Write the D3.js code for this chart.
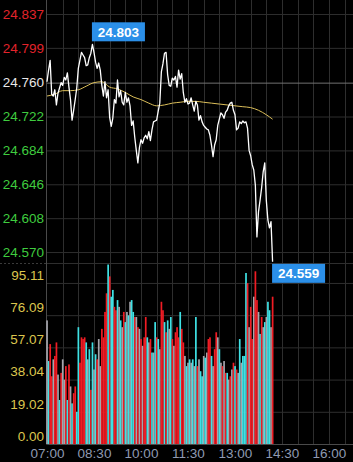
<!DOCTYPE html>
<html>
<head>
<meta charset="utf-8">
<style>
  html, body { margin: 0; padding: 0; background: #000; overflow: hidden; }
  svg { display: block; }
  text { font-family: "Liberation Sans", Arial, sans-serif; }
</style>
</head>
<body>
<svg id="chart" width="353" height="462"></svg>
<script src="https://d3js.org/d3.v7.min.js"></script>
<script>
const priceTicks = [24.837, 24.799, 24.760, 24.722, 24.684, 24.646, 24.608, 24.570];
const volumeTicks = [0, 19.02, 38.04, 57.07, 76.09, 95.11];
const timeTicks = ["07:00", "08:30", "10:00", "11:30", "13:00", "14:30", "16:00"];
const prevClose = 24.760;
const barMinutes = 3;   // one point / bar every 3 minutes from 07:00
const avgEvery = 5;     // average line sampled every 5 bars

// last price per bar
const prices = [
  24.761, 24.774, 24.785, 24.747, 24.745, 24.752, 24.735, 24.748, 24.754, 24.760,
  24.757, 24.766, 24.763, 24.771, 24.755, 24.741, 24.718, 24.729, 24.741, 24.754,
  24.776, 24.785, 24.794, 24.791, 24.788, 24.779, 24.780, 24.788, 24.793, 24.803,
  24.794, 24.783, 24.776, 24.782, 24.774, 24.757, 24.745, 24.761, 24.743, 24.752,
  24.721, 24.711, 24.720, 24.741, 24.737, 24.763, 24.744, 24.751, 24.738, 24.735,
  24.749, 24.738, 24.743, 24.734, 24.712, 24.717, 24.699, 24.684, 24.670, 24.687,
  24.696, 24.692, 24.698, 24.701, 24.697, 24.705, 24.695, 24.707, 24.716, 24.717,
  24.718, 24.728, 24.737, 24.772, 24.781, 24.793, 24.794, 24.769, 24.757, 24.756,
  24.765, 24.763, 24.767, 24.755, 24.774, 24.764, 24.770, 24.749, 24.738, 24.742,
  24.736, 24.737, 24.743, 24.735, 24.728, 24.739, 24.735, 24.718, 24.723, 24.716,
  24.712, 24.710, 24.708, 24.707, 24.701, 24.690, 24.677, 24.690, 24.696, 24.712,
  24.719, 24.726, 24.724, 24.720, 24.727, 24.729, 24.734, 24.737, 24.738, 24.729,
  24.724, 24.707, 24.709, 24.716, 24.714, 24.717, 24.715, 24.716, 24.709, 24.684,
  24.678, 24.668, 24.662, 24.645, 24.587, 24.615, 24.628, 24.642, 24.660, 24.670,
  24.628, 24.606, 24.597, 24.604, 24.559
];

// average price, every 5 bars (last one = last bar)
const avgPrices = [
  24.745, 24.747, 24.751, 24.751, 24.752, 24.756, 24.760, 24.761, 24.755, 24.753,
  24.749, 24.744, 24.741, 24.737, 24.734, 24.735, 24.737, 24.738, 24.739, 24.739,
  24.738, 24.737, 24.736, 24.735, 24.734, 24.733, 24.732, 24.729, 24.724, 24.719
];

const volumes = [
  73, 49, 59, 40, 50, 52, 60, 41, 26, 42, 50, 38, 46, 26, 47, 34, 24, 30, 34, 19,
  69, 48, 63, 62, 63, 60, 50, 56, 32, 60, 44, 53, 50, 62, 46, 68, 63, 78, 89, 106,
  99, 87, 91, 81, 79, 85, 81, 73, 69, 78, 72, 78, 76, 84, 85, 78, 75, 75, 69, 68,
  62, 58, 63, 75, 63, 60, 62, 54, 54, 72, 63, 62, 56, 84, 79, 72, 66, 73, 68, 75,
  62, 58, 66, 69, 63, 78, 68, 60, 52, 46, 48, 50, 48, 50, 46, 75, 46, 50, 43, 40,
  52, 51, 54, 62, 63, 52, 46, 56, 66, 63, 56, 48, 46, 49, 42, 42, 38, 40, 44, 48,
  46, 44, 42, 62, 48, 52, 52, 101, 95, 69, 81, 62, 87, 102, 85, 78, 65, 75, 69, 72,
  75, 84, 79, 69, 87
];

// 1 = up (red), -1 = down (cyan), 0 = flat (grey)
const volumeSide = [
  0, -1, 1, 1, 0, 1, 1, 0, -1, 1, 0, 0, 1, -1, 1, 0, -1, 1, 1, -1,
  -1, 1, 1, 1, 1, -1, 0, -1, 1, -1, 0, -1, 1, 0, 0, 1, 1, 1, 1, -1,
  1, -1, -1, 1, 1, -1, 0, -1, 0, 1, -1, 0, -1, 0, -1, -1, 1, 0, 1, 0,
  1, 0, 1, 1, -1, 0, 1, -1, 0, -1, 1, -1, 0, 1, 1, -1, 1, -1, 0, -1,
  1, 0, 1, 1, 1, -1, 1, 1, 0, -1, 0, -1, 0, -1, 0, -1, 1, 0, -1, -1,
  0, -1, 0, 1, 1, -1, 0, 1, 1, 0, -1, 0, 1, 0, 1, -1, 0, 1, 0, 1,
  -1, 1, 0, -1, 0, -1, -1, -1, 1, 0, 1, 1, 0, 1, 1, 0, -1, 1, 0, -1,
  0, -1, -1, 0, 1
];

const W = 353, H = 462;
const left = 46;
const priceBottom = 263, volBottom = 444;

const svg = d3.select("#chart");
svg.append("rect").attr("width", W).attr("height", H).attr("fill", "#000");

const x = d3.scaleLinear().domain([0, 586]).range([47, W]);
const yPrice = d3.scaleLinear().domain([24.5577, 24.8527]).range([priceBottom, 0]);
const yVol = d3.scaleLinear().domain([0, 106.9]).range([volBottom, priceBottom]);

const GRID = "#2e2e2e";

// vertical grid, every 30 minutes
svg.append("g")
  .selectAll("line")
  .data(d3.range(30, 587, 30))
  .join("line")
  .attr("x1", d => Math.round(x(d)) + 0.5).attr("x2", d => Math.round(x(d)) + 0.5)
  .attr("y1", 0).attr("y2", volBottom)
  .attr("stroke", GRID).attr("stroke-width", 1);

// price axis + horizontal grid
const priceAxis = svg.append("g")
  .attr("transform", `translate(${left},0)`)
  .call(d3.axisLeft(yPrice).tickValues(priceTicks).tickFormat(d3.format(".3f"))
    .tickSizeInner(-(W - left)).tickSizeOuter(0).tickPadding(2));
priceAxis.select(".domain").remove();
priceAxis.selectAll(".tick line")
  .attr("stroke", d => d === prevClose ? "#707070" : GRID);
priceAxis.selectAll(".tick text")
  .attr("font-size", 13.5)
  .attr("fill", d => d > prevClose ? "#e3232b" : d < prevClose ? "#3fcc3f" : "#e8e8e8");

// volume axis + horizontal grid (labels sit above their line)
const volAxis = svg.append("g")
  .attr("transform", `translate(${left},0)`)
  .call(d3.axisLeft(yVol).tickValues(volumeTicks).tickFormat(d3.format(".2f"))
    .tickSizeInner(-(W - left)).tickSizeOuter(0).tickPadding(2));
volAxis.select(".domain").remove();
volAxis.selectAll(".tick line").attr("stroke", GRID);
volAxis.selectAll(".tick text")
  .attr("font-size", 13.5)
  .attr("y", -8)
  .attr("fill", "#dcc64e");

// panel separator: dotted under the labels, solid over the plot
svg.append("line")
  .attr("x1", 0).attr("x2", left)
  .attr("y1", priceBottom + 0.5).attr("y2", priceBottom + 0.5)
  .attr("stroke", "#3a3a3a").attr("stroke-dasharray", "2,2");
svg.append("line")
  .attr("x1", left).attr("x2", W)
  .attr("y1", priceBottom + 0.5).attr("y2", priceBottom + 0.5)
  .attr("stroke", GRID);

// left frame line
svg.append("line")
  .attr("x1", left + 0.5).attr("x2", left + 0.5).attr("y1", 0).attr("y2", volBottom)
  .attr("stroke", "#4a4a4a");

// time axis
const timeAxis = svg.append("g")
  .attr("transform", `translate(0,${volBottom})`)
  .call(d3.axisBottom(x).tickValues(timeTicks.map((t, i) => i * 90))
    .tickFormat((d, i) => timeTicks[i]).tickSize(0).tickPadding(4));
timeAxis.select(".domain").attr("stroke", "#4a4a4a");
timeAxis.selectAll(".tick text")
  .attr("font-size", 13.5)
  .attr("fill", "#8f9ab2");

// volume bars
const sideColor = { "1": "#f01c24", "-1": "#3fe1e4", "0": "#a5a5ac" };
svg.append("g")
  .selectAll("rect")
  .data(volumes)
  .join("rect")
  .attr("x", (d, i) => x(i * barMinutes) - 0.8)
  .attr("width", 1.7)
  .attr("y", d => yVol(d))
  .attr("height", d => volBottom - yVol(d))
  .attr("fill", (d, i) => sideColor[volumeSide[i]]);

// average line
const lastIdx = prices.length - 1;
svg.append("path")
  .datum(avgPrices)
  .attr("fill", "none")
  .attr("stroke", "#dcbf5a")
  .attr("stroke-width", 1)
  .attr("d", d3.line()
    .x((d, k) => x(Math.min(k * avgEvery, lastIdx) * barMinutes))
    .y(d => yPrice(d))
    .curve(d3.curveMonotoneX));

// price line
svg.append("path")
  .datum(prices)
  .attr("fill", "none")
  .attr("stroke", "#fff")
  .attr("stroke-width", 1.3)
  .attr("stroke-linejoin", "round")
  .attr("d", d3.line()
    .x((d, i) => x(i * barMinutes))
    .y(d => yPrice(d)));

// max / last price tags
function tag(value, idx, above) {
  const px = x(idx * barMinutes);
  const py = yPrice(value);
  const g = svg.append("g");
  const t = g.append("text")
    .attr("font-size", 13.5)
    .attr("font-weight", "bold")
    .attr("fill", "#fff")
    .attr("text-anchor", "middle")
    .text(value.toFixed(3));
  const w = 53, h = 19;
  const bx = px - 0.5, by = above ? py - h - 3 : py + 2;
  g.insert("rect", "text")
    .attr("x", bx).attr("y", by).attr("width", w).attr("height", h)
    .attr("fill", "#2b8fe8");
  t.attr("x", bx + w / 2).attr("y", by + h / 2).attr("dy", "0.36em");
}

const maxIdx = d3.maxIndex(prices);
tag(prices[maxIdx], maxIdx, true);
tag(prices[lastIdx], lastIdx, false);
</script>
</body>
</html>
